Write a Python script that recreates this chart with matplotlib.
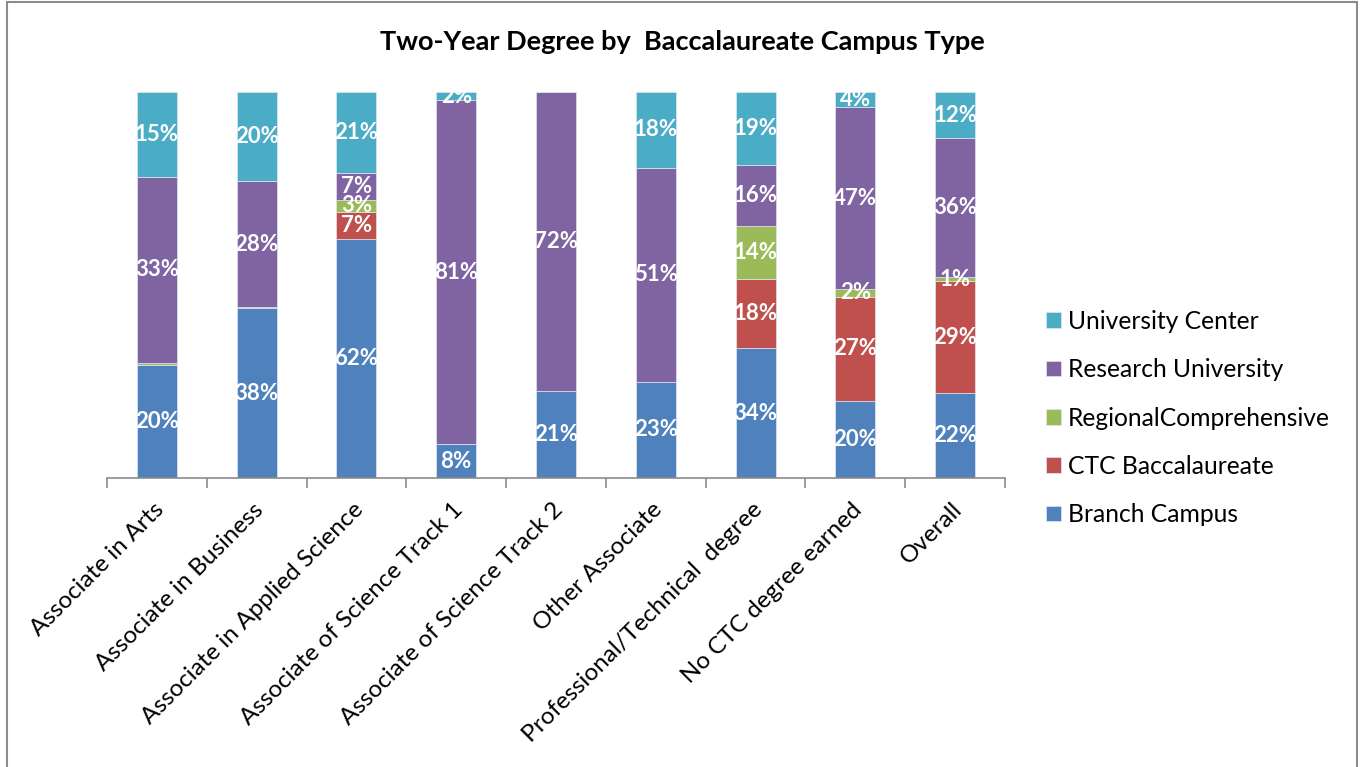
import matplotlib.pyplot as plt
from matplotlib.patches import Rectangle
import numpy as np

plt.rcParams['font.family'] = ['Lato', 'DejaVu Sans']

categories = ['Associate in Arts', 'Associate in Business', 'Associate in Applied Science',
              'Associate of Science Track 1', 'Associate of Science Track 2', 'Other Associate',
              'Professional/Technical  degree', 'No CTC degree earned', 'Overall']
series_names = ['Branch Campus', 'CTC Baccalaureate', 'RegionalComprehensive',
                'Research University', 'University Center']
branch = [20, 38, 62, 8, 21, 23, 34, 20, 22]
ctc = [0, 0, 7, 0, 0, 0, 18, 27, 29]
regional = [0.4, 0.3, 3, 0, 0, 0, 14, 2, 1]
research = [33, 28, 7, 81, 72, 51, 16, 47, 36]
univ_center = [15, 20, 21, 2, 0, 18, 19, 4, 12]
colors = ['#4F81BD', '#C0504D', '#9BBB59', '#8064A2', '#4BACC6']

data = np.array([branch, ctc, regional, research, univ_center], dtype=float)
totals = data.sum(axis=0)
shares = data / totals

fig = plt.figure(figsize=(13.65, 7.67), dpi=100)
ax = fig.add_axes([107/1365, 1 - 478/767, (1005-107)/1365, (478-92)/767])

x = np.arange(len(categories))
bottom = np.zeros(len(categories))
handles = []
for i, name in enumerate(series_names):
    b = ax.bar(x, shares[i], 0.4, bottom=bottom, color=colors[i],
               edgecolor='#dfe6f0', linewidth=0.5, label=name)
    handles.append(b)
    for j in range(len(categories)):
        if data[i, j] >= 1:
            ax.text(x[j], bottom[j] + shares[i, j] / 2, f'{data[i, j]:.0f}%',
                    ha='center', va='center', color='white', fontsize=16,
                    fontweight='bold')
    bottom += shares[i]

ax.set_xlim(-0.5, len(categories) - 0.5)
ax.set_ylim(0, 1)
ax.set_yticks([])
for s in ['left', 'right', 'top']:
    ax.spines[s].set_visible(False)
ax.spines['bottom'].set_color('#8c8c8c')
ax.spines['bottom'].set_linewidth(1.2)
ax.set_xticks(np.arange(-0.5, len(categories)))
ax.set_xticklabels([])
ax.tick_params(axis='x', direction='out', length=7, width=1.2, color='#8c8c8c')
for j, c in enumerate(categories):
    ax.annotate(c, xy=(x[j], 0), xycoords=('data', 'axes fraction'),
                xytext=(-3, -15), textcoords='offset points',
                rotation=45, ha='right', va='top', rotation_mode='anchor',
                fontsize=17.5, color='black')

fig.text(0.5, 1 - 42/767, 'Two-Year Degree by  Baccalaureate Campus Type',
         ha='center', va='center', fontsize=19.5, fontweight='bold')

fig.legend(handles[::-1], series_names[::-1], loc='center left',
           bbox_to_anchor=(1024/1365, 1 - 418/767), frameon=False,
           fontsize=17.7, handlelength=0.6, handleheight=0.6,
           handletextpad=0.3, labelspacing=1.03)

fig.add_artist(Rectangle((7/1365, -0.05), (1357-7)/1365, 1.05 - 2/767,
                         transform=fig.transFigure, fill=False,
                         edgecolor='#8c8c8c', linewidth=1.5))

fig.savefig('out.png', dpi=100)
